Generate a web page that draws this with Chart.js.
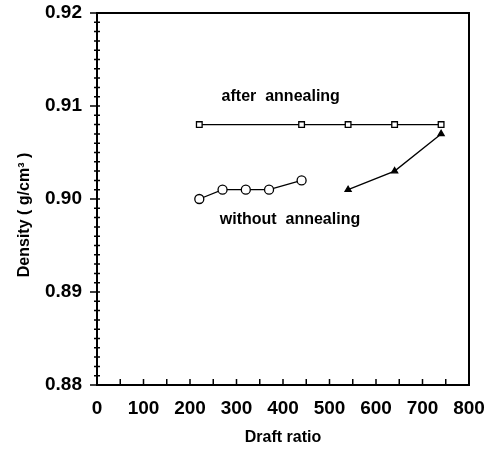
<!DOCTYPE html>
<html>
<head>
<meta charset="utf-8">
<script src="https://cdn.jsdelivr.net/npm/chart.js@4"></script>
<style>
  html, body { margin: 0; padding: 0; background: #fff; }
  #wrap { width: 496px; height: 451px; }
</style>
</head>
<body>
<div id="wrap"><canvas id="densityChart" width="496" height="451"></canvas></div>
<script>
// draft ratio / density
const afterX = [220, 440, 540, 640, 740];
const afterY = [0.908, 0.908, 0.908, 0.908, 0.908];
const withoutX = [220, 270, 320, 370, 440];
const withoutY = [0.900, 0.901, 0.901, 0.901, 0.902];
const withoutHighX = [540, 640, 740];
const withoutHighY = [0.901, 0.903, 0.907];
const xTicks = [0, 100, 200, 300, 400, 500, 600, 700, 800];
const yTicks = [0.88, 0.89, 0.90, 0.91, 0.92];

const FONT = "'Liberation Sans', Arial, sans-serif";

function pts(xs, ys) {
  return xs.map((x, i) => ({ x: x, y: ys[i] }));
}

// frame, inward ticks and in-plot labels
const decorations = {
  id: "decorations",
  afterDraw(chart) {
    const c = chart.ctx;
    const a = chart.chartArea;
    const xs = chart.scales.x;
    const ys = chart.scales.y;
    c.save();
    c.strokeStyle = "#000";
    c.lineWidth = 2;
    c.strokeRect(a.left, a.top, a.right - a.left, a.bottom - a.top);

    c.lineWidth = 1.5;
    c.beginPath();
    for (let v = 0; v <= 800; v += 50) {
      const px = xs.getPixelForValue(v);
      c.moveTo(px, a.bottom);
      c.lineTo(px, a.bottom - 6);
    }
    for (let i = 0; i <= 40; i++) {
      const v = 0.88 + i * 0.001;
      const py = ys.getPixelForValue(v);
      const major = i % 10 === 0;
      c.moveTo(a.left - (major ? 7 : 3), py);
      c.lineTo(a.left + 3, py);
    }
    c.stroke();

    c.fillStyle = "#000";
    c.font = "bold 16px " + FONT;
    c.textBaseline = "middle";
    c.textAlign = "left";
    c.fillText("after  annealing", xs.getPixelForValue(268), ys.getPixelForValue(0.9110));
    c.fillText("without  annealing", xs.getPixelForValue(264), ys.getPixelForValue(0.8978));
    c.restore();
  }
};

const lineStyle = {
  borderColor: "#000",
  borderWidth: 1.3,
  showLine: true,
  tension: 0,
  pointBorderColor: "#000",
  pointBorderWidth: 1.3,
};

new Chart(document.getElementById("densityChart").getContext("2d"), {
  type: "scatter",
  data: {
    datasets: [
      Object.assign({
        label: "after annealing",
        data: pts(afterX, afterY),
        pointStyle: "rect",
        pointRadius: 4,
        pointBackgroundColor: "#fff",
      }, lineStyle),
      Object.assign({
        label: "without annealing",
        data: pts(withoutX, withoutY),
        pointStyle: "circle",
        pointRadius: 4.5,
        pointBackgroundColor: "#fff",
      }, lineStyle),
      Object.assign({
        label: "without annealing (high draft)",
        data: pts(withoutHighX, withoutHighY),
        pointStyle: "triangle",
        pointRadius: 3.5,
        pointBackgroundColor: "#000",
      }, lineStyle),
    ],
  },
  options: {
    responsive: false,
    animation: false,
    layout: { padding: { left: 0, top: 13, right: 27, bottom: 0 } },
    plugins: {
      legend: { display: false },
      tooltip: { enabled: false },
    },
    scales: {
      x: {
        type: "linear",
        min: 0,
        max: 800,
        afterBuildTicks(scale) { scale.ticks = xTicks.map(v => ({ value: v })); },
        afterFit(scale) {
          scale.height = 66;
          scale.paddingLeft = 0;
          scale.paddingRight = 0;
        },
        grid: { display: false, drawTicks: false },
        border: { display: false },
        ticks: {
          color: "#000",
          padding: 12,
          maxRotation: 0,
          font: { family: FONT, size: 19, weight: "bold" },
        },
        title: {
          display: true,
          text: "Draft ratio",
          color: "#000",
          padding: { top: 4, bottom: 4 },
          font: { family: FONT, size: 16, weight: "bold" },
        },
      },
      y: {
        type: "linear",
        min: 0.88,
        max: 0.92,
        afterBuildTicks(scale) { scale.ticks = yTicks.map(v => ({ value: v })); },
        afterFit(scale) {
          scale.width = 97;
          scale.paddingTop = 0;
          scale.paddingBottom = 0;
        },
        grid: { display: false, drawTicks: false },
        border: { display: false },
        ticks: {
          color: "#000",
          padding: 15,
          callback: v => v.toFixed(2),
          font: { family: FONT, size: 19, weight: "bold" },
        },
        title: {
          display: true,
          // trailing em spaces nudge the rotated title down, as in the original
          text: "Density ( g/cm³ )\u2003\u2003",
          color: "#000",
          padding: { top: 15, bottom: 0 },
          font: { family: FONT, size: 16, weight: "bold" },
        },
      },
    },
  },
  plugins: [decorations],
});
</script>
</body>
</html>
